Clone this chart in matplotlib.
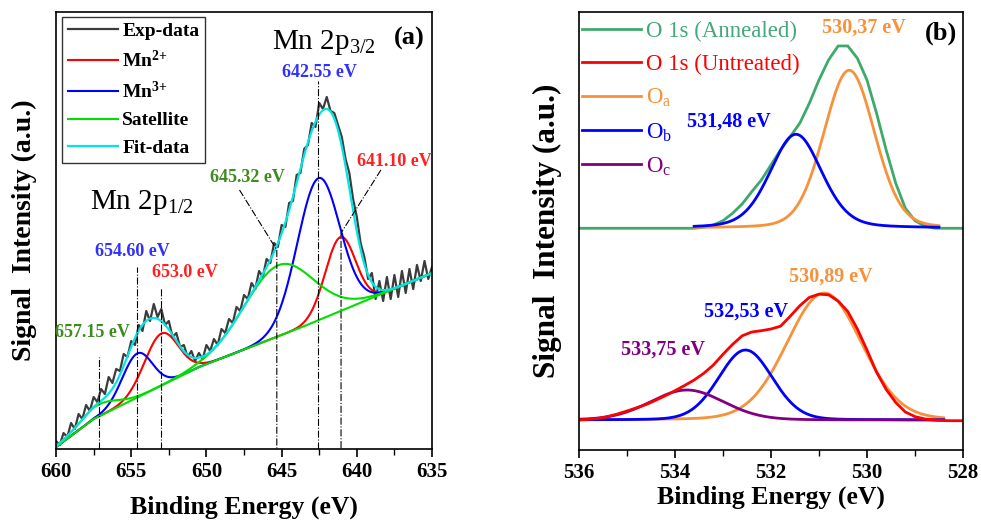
import numpy as np
import matplotlib
matplotlib.use("Agg")
from matplotlib import pyplot as plt

plt.rcParams['font.family'] = ['Liberation Serif', 'DejaVu Serif']
plt.rcParams['mathtext.fontset'] = 'custom'
plt.rcParams['mathtext.rm'] = 'Liberation Serif'
plt.rcParams['mathtext.it'] = 'Liberation Serif:italic'
plt.rcParams['mathtext.bf'] = 'Liberation Serif:bold'

# ---------------- (a) Mn 2p ----------------
exp_energy = np.linspace(660, 635, 101)
exp_counts = [8, 4, 16, 12, 26, 20, 35, 30, 44, 38, 52, 47, 60, 55, 72, 66, 80, 78, 95, 92,
              108, 104, 124, 118, 138, 128, 145, 132, 140, 124, 128, 112, 116, 102, 104, 92,
              98, 88, 96, 90, 104, 98, 110, 104, 120, 116, 130, 126, 142, 138, 154, 150, 166,
              160, 178, 172, 190, 186, 206, 202, 224, 222, 246, 248, 274, 276, 300, 304, 326,
              322, 346, 340, 352, 338, 336, 324, 312, 290, 276, 250, 232, 206, 192, 170, 176,
              150, 168, 148, 172, 150, 174, 152, 178, 156, 180, 160, 184, 168, 188, 170, 182]

bkg_energy = [660, 657.5, 650.5, 643.8, 635]
bkg_counts = [2, 30, 82, 121, 176]

# fitted components: 2p3/2 and 2p1/2 peaks (centre eV, height, fwhm eV)
mn2_center = [641.10, 653.00]
mn2_height = [74, 52]
mn2_fwhm = [2.35, 2.64]
mn3_center = [642.55, 654.60]
mn3_height = [142, 44]
mn3_fwhm = [3.30, 2.35]
sat_center = [645.20, 657.15]
sat_height = [71, 12]
sat_fwhm = [5.42, 2.83]

# ---------------- (b) O 1s ----------------
o1s_energy = np.linspace(536, 528, 41)
annealed = [221.7] * 12 + [221.7, 222.7, 225, 229.3, 236.7, 246, 258.3, 270, 285, 300, 313.3,
                           326.7, 346.7, 370, 390, 404, 404, 391.7, 370, 336.7, 300, 266.7,
                           241.7, 229.3, 224, 221.8, 221.7, 221.7, 221.7]
untreated = [30, 30.7, 31.5, 33.5, 36, 39, 42.2, 45.5, 49.8, 54.3, 59.3, 64.5, 70, 76.7, 85,
             95.7, 105.6, 114.2, 118, 119.3, 121, 123.8, 133.7, 144.2, 152.6, 155.8, 155.2,
             149, 138.5, 121, 100, 77.8, 60.6, 47.5, 38, 33.4, 31.1, 29.9, 29.4, 29.3, 29.3]

ann_center = [530.37, 531.48]
ann_height = [158, 94]
ann_fwhm = [1.25, 1.27]
unt_center = [530.89, 532.53, 533.75]
unt_height = [127, 70, 30]
unt_fwhm = [1.84, 1.32, 1.80]


def peak(e, c, h, fwhm, mix=0.0):
    d = (e - c) / fwhm
    return h * ((1 - mix) * np.exp(-4 * np.log(2) * d ** 2) + mix / (1 + 4 * d ** 2))


fig = plt.figure(figsize=(9.81, 5.2), dpi=100)

# ======== panel a ========
ax1 = fig.add_axes([0.0571, 0.1365, 0.3833, 0.8405])
e = np.linspace(660, 635, 600)
bkg = np.interp(e, bkg_energy[::-1], bkg_counts[::-1])
mn2 = bkg + sum(peak(e, c, h, w) for c, h, w in zip(mn2_center, mn2_height, mn2_fwhm))
mn3 = bkg + sum(peak(e, c, h, w) for c, h, w in zip(mn3_center, mn3_height, mn3_fwhm))
sat = bkg + sum(peak(e, c, h, w) for c, h, w in zip(sat_center, sat_height, sat_fwhm))
fit = mn2 + mn3 + sat - 2 * bkg

green = '#00e000'
ax1.plot(exp_energy, exp_counts, color='#3c3c3c', lw=1.6, label='Exp-data')
ax1.plot(e, mn2, color='#ff0000', lw=1.5, label=r'Mn$^{\mathbf{2{+}}}$')
ax1.plot(e, mn3, color='#0000ff', lw=1.5, label=r'Mn$^{\mathbf{3{+}}}$')
ax1.plot(e, bkg, color=green, lw=1.5)
ax1.plot(e, sat, color=green, lw=1.5, label='Satellite')
ax1.plot(e, fit, color='#00e5e5', lw=1.6, label='Fit-data')

# dash-dot markers of the peak positions
dd = dict(color='k', lw=0.8, ls='-.')
ax1.plot([657.15, 657.15], [0, 92], **dd)
ax1.plot([654.60, 654.60], [0, 182], **dd)
ax1.plot([653.0, 653.0], [0, 162], **dd)
ax1.plot([647.8, 645.32, 645.32], [259, 199, 0], **dd)
ax1.plot([642.55, 642.55], [0, 368], **dd)
ax1.plot([638.4, 641.05, 641.05], [279, 216, 0], **dd)

lab = dict(fontsize=13, fontweight='bold', ha='center', va='center')
ax1.text(657.55, 117, '657.15 eV', color='#3d8b1f', **lab)
ax1.text(654.9, 197, '654.60 eV', color='#3030ff', **lab)
ax1.text(651.4, 176, '653.0 eV', color='#ff2020', **lab)
ax1.text(647.3, 271, '645.32 eV', color='#3d8b1f', **lab)
ax1.text(642.5, 376, '642.55 eV', color='#3030ff', **lab)
ax1.text(637.5, 287, '641.10 eV', color='#ff2020', **lab)
ax1.text(642.2, 406, r'Mn 2p$_{\mathrm{3/2}}$', fontsize=21, ha='center', va='center')
ax1.text(654.3, 246, r'Mn 2p$_{\mathrm{1/2}}$', fontsize=21, ha='center', va='center')
ax1.text(636.5, 411, '(a)', fontsize=19, fontweight='bold', ha='center', va='center')

ax1.set_xlim(660, 635)
ax1.set_ylim(0, 437)
ax1.set_xticks([660, 655, 650, 645, 640, 635])
ax1.set_xticks(np.arange(660, 634, -2.5), minor=True)
ax1.set_xlabel('Binding Energy (eV)', fontsize=18.5, fontweight='bold', labelpad=10)
ax1.set_ylabel('Signal  Intensity (a.u.)', fontsize=20, fontweight='bold')
ax1.yaxis.set_label_coords(-0.05, 0.5)

leg1 = ax1.legend(loc='upper left', bbox_to_anchor=(0.016, 0.989), borderaxespad=0,
                  prop={'size': 14, 'weight': 'bold'}, frameon=True, fancybox=False,
                  edgecolor='k', handlelength=2.6, handletextpad=0.2, labelspacing=0.5,
                  borderpad=0.3)
leg1.get_frame().set_linewidth(1.0)

# ======== panel b ========
ax2 = fig.add_axes([0.5902, 0.1346, 0.3914, 0.8424])
e_up = np.linspace(533.6, 528.5, 300)
e_lo = np.linspace(536, 528.4, 400)
b_up = annealed[0]
b_lo = untreated[0]

ax2.plot(o1s_energy, annealed, color='#3daa6b', lw=2, label='O 1s (Annealed)')
ax2.plot(e_up, b_up + peak(e_up, ann_center[0], ann_height[0], ann_fwhm[0], 0.15),
         color='#f7923a', lw=2)
ax2.plot(e_up, b_up + peak(e_up, ann_center[1], ann_height[1], ann_fwhm[1], 0.25),
         color='#0000ff', lw=2)
ax2.plot([], [], color='#ff0000', lw=2, label='O 1s (Untreated)')
ax2.plot(e_lo, b_lo + peak(e_lo, unt_center[0], unt_height[0], unt_fwhm[0], 0.1),
         color='#f7923a', lw=2, label=r'O$_\mathrm{a}$')
ax2.plot(e_lo, b_lo + peak(e_lo, unt_center[1], unt_height[1], unt_fwhm[1], 0.1),
         color='#0000ff', lw=2, label=r'O$_\mathrm{b}$')
ax2.plot(e_lo, b_lo + peak(e_lo, unt_center[2], unt_height[2], unt_fwhm[2], 0.1),
         color='#800080', lw=2, label=r'O$_\mathrm{c}$')
ax2.plot(o1s_energy, untreated, color='#ff0000', lw=2)

lab2 = dict(fontsize=14.5, fontweight='bold', ha='center', va='center')
ax2.text(530.06, 422, '530,37 eV', color='#f7923a', **lab2)
ax2.text(532.875, 328, '531,48 eV', color='#0000ff', **lab2)
ax2.text(530.75, 173, '530,89 eV', color='#f7923a', **lab2)
ax2.text(532.52, 138, '532,53 eV', color='#0000ff', **lab2)
ax2.text(534.25, 100, '533,75 eV', color='#800080', **lab2)
ax2.text(528.46, 417, '(b)', fontsize=19, fontweight='bold', ha='center', va='center')

ax2.set_xlim(536, 528)
ax2.set_ylim(0, 438)
ax2.set_xticks([536, 534, 532, 530, 528])
ax2.set_xticks(np.arange(536, 527.5, -1), minor=True)
ax2.set_xlabel('Binding Energy (eV)', fontsize=18.5, fontweight='bold', labelpad=2)
ax2.set_ylabel('Signal  Intensity (a.u.)', fontsize=22.5, fontweight='bold')
ax2.yaxis.set_label_coords(-0.044, 0.5)

leg2 = ax2.legend(loc='upper left', bbox_to_anchor=(-0.005, 0.99), borderaxespad=0,
                  prop={'size': 16.5}, frameon=False, handlelength=2.6,
                  handletextpad=0.2, labelspacing=0.52, borderpad=0.2)
for line, text in zip(leg2.get_lines(), leg2.get_texts()):
    text.set_color(line.get_color())
leg2.get_texts()[0].set_color('#45a87a')

for ax in (ax1, ax2):
    ax.set_yticks([])
    ax.tick_params(axis='x', which='major', direction='out', length=6, width=1.2,
                   labelsize=15, pad=3)
    ax.tick_params(axis='x', which='minor', direction='out', length=4, width=1.0)
    for lbl in ax.get_xticklabels():
        lbl.set_fontweight('bold')
    for sp in ax.spines.values():
        sp.set_linewidth(1.2)

fig.savefig('out.png', dpi=100)
